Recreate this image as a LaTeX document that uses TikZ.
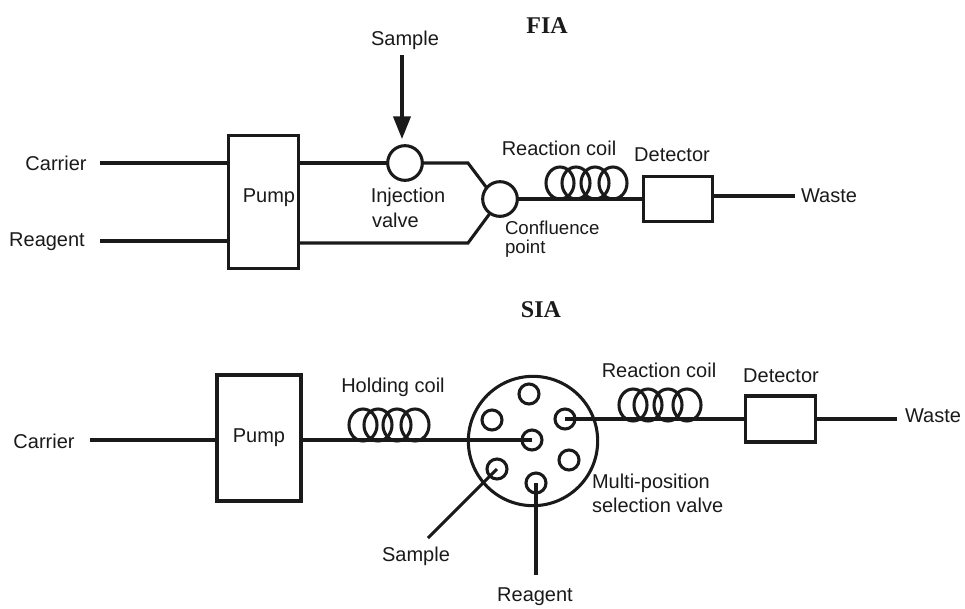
\documentclass[tikz,border=0pt]{standalone}
\usepackage{fontspec}
\setmainfont{Liberation Sans}
\newfontfamily\headfont{Liberation Serif}
\usetikzlibrary{shapes.geometric,arrows.meta}
\definecolor{ink}{HTML}{1A1A1A}
\tikzset{
  x=0.75pt,y=-0.75pt,
  every node/.style={inner sep=0pt,outer sep=0pt},
  pipe/.style={draw=ink,line width=2.3pt},
  lbl/.style={text=ink,font=\fontsize{15}{17}\selectfont},
  smalllbl/.style={text=ink,font=\fontsize{14}{17}\selectfont},
  head/.style={text=ink,font=\headfont\bfseries\fontsize{18}{20}\selectfont},
  boxnode/.style={draw=ink,line width=2.3pt,fill=white,rectangle},
  port/.style={draw=ink,line width=2.3pt,circle,minimum size=#1},
  coilturn/.style={draw=ink,line width=2.3pt,ellipse,minimum width=21pt,minimum height=24pt},
}
\begin{document}
\begin{tikzpicture}
\useasboundingbox (0,0) rectangle (965,608);
% FIA
\node[head] (titleA) at (547,26) {FIA};
\node[lbl] (sampleA) at (405,40) {Sample};
\node[lbl] (carrierA) at (56,163) {Carrier};
\node[lbl] (reagentA) at (47,242) {Reagent};
\node[boxnode,minimum width=53pt,minimum height=100pt] (pumpA) at (263.5,202) {};
\node[lbl] (pumpAtext) at (269,198) {Pump};
\node[port=26pt] (inj) at (405,163) {};
\node[port=26pt] (conf) at (500,199) {};
\node[boxnode,minimum width=52pt,minimum height=34pt] (detA) at (678,199) {};
\node[lbl] (injtext) at (408,197) {Injection};
\node[lbl,anchor=west] (valvetext) at (372,220) {valve};
\node[lbl] (rcA) at (559,148) {Reaction coil};
\node[lbl] (detAtext) at (672,155) {Detector};
\node[lbl] (wasteA) at (829,196) {Waste};
\node[smalllbl,anchor=west] (conftext) at (505,228) {Confluence};
\node[smalllbl,anchor=west] (pointtext) at (505,249) {point};
\foreach \cx in {560,576,595,613} \node[coilturn] at (\cx,183) {};
\coordinate (arrowA) at (402,55);
\coordinate (arrowAend) at (402,139);
\coordinate (bendA) at (468,163);
\coordinate (bendB) at (468,243);
\coordinate (carrierAend) at (100,163);
\coordinate (reagentAend) at (100,241);
\coordinate (wasteAend) at (795,196);
\draw[pipe,-{Triangle[length=17pt,width=13pt]}] (arrowA) -- (arrowAend);
\draw[pipe] (carrierAend) -- (pumpA.west |- carrierAend);
\draw[pipe] (reagentAend) -- (pumpA.west |- reagentAend);
\draw[pipe] (pumpA.east |- inj) -- (inj.west);
\draw[pipe] (inj.east) -- (bendA) -- (conf.140);
\draw[pipe] (pumpA.east |- bendB) -- (bendB) -- (conf.235);
\draw[pipe] (conf.east) -- (detA.west);
\draw[pipe] (detA.east |- wasteAend) -- (wasteAend);
% SIA
\node[head] (titleB) at (541,310) {SIA};
\node[lbl] (carrierB) at (44,441) {Carrier};
\node[boxnode,minimum width=63pt,minimum height=94.5pt,label={[lbl]center:Pump}] (pumpB) at (259,438) {};
\node[port=97pt] (valve) at (533,441) {};
\node[port=15pt] (p1) at (529,394) {};
\node[port=15pt] (p2) at (492,420) {};
\node[port=15pt] (p3) at (565,419) {};
\node[port=15pt] (p4) at (532,440) {};
\node[port=15pt] (p5) at (497,469) {};
\node[port=15pt] (p6) at (569,460) {};
\node[port=15pt] (p7) at (536,483) {};
\node[boxnode,minimum width=53pt,minimum height=34.5pt] (detB) at (780.5,419) {};
\node[lbl] (hold) at (393,387) {Holding coil};
\node[lbl] (rcB) at (659,370) {Reaction coil};
\node[lbl] (detBtext) at (781,376) {Detector};
\node[lbl] (wasteB) at (933,416) {Waste};
\node[lbl,anchor=west] (multi) at (592,483) {Multi-position};
\node[lbl,anchor=west] (selv) at (592,505) {selection valve};
\node[lbl] (sampleB) at (416,556) {Sample};
\node[lbl] (reagentB) at (535,597) {Reagent};
\foreach \cx in {363,378,397,415} \node[coilturn] at (\cx,425) {};
\foreach \cx in {633,648,668,687} \node[coilturn] at (\cx,405) {};
\coordinate (carrierBend) at (90,440);
\coordinate (wasteBend) at (897,419);
\coordinate (sampleBend) at (428,538);
\coordinate (reagentBend) at (536,575);
\draw[pipe] (carrierBend) -- (pumpB.west |- carrierBend);
\draw[pipe] (pumpB.east |- p4) -- (p4.center);
\draw[pipe] (p3.center) -- (detB.west);
\draw[pipe] (detB.east) -- (wasteBend);
\draw[pipe] (p5.center) -- (sampleBend);
\draw[pipe] (p7.center) -- (reagentBend);
\end{tikzpicture}
\end{document}
